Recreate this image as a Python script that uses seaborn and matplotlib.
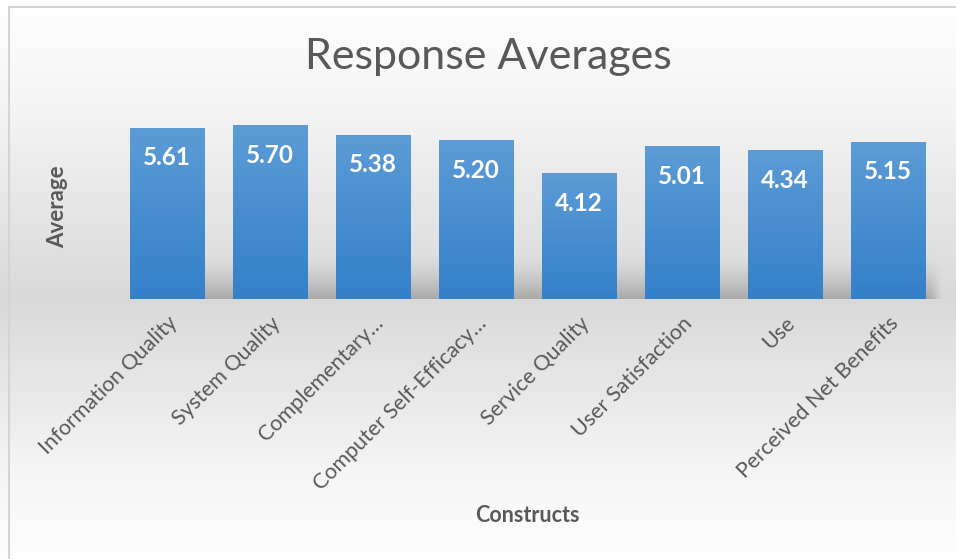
import numpy as np
import pandas as pd
import seaborn as sns
import matplotlib.pyplot as plt
from matplotlib.lines import Line2D

# ---- data ----
categories = ["Information Quality", "System Quality", "Complementary\u2026",
              "Computer Self-Efficacy\u2026", "Service Quality", "User Satisfaction",
              "Use", "Perceived Net Benefits"]
# bar heights as drawn in the picture (the "Use" bar is drawn taller than its label)
averages = [5.61, 5.70, 5.38, 5.20, 4.12, 5.01, 4.88, 5.15]
value_labels = ["5.61", "5.70", "5.38", "5.20", "4.12", "5.01", "4.34", "5.15"]
title = "Response Averages"
x_title = "Constructs"
y_title = "Average"

df = pd.DataFrame({"construct": categories, "average": averages})

sns.set_theme(style="white")
plt.rcParams['font.family'] = ['Lato', 'DejaVu Sans']

W, H = 956, 559
fig = plt.figure(figsize=(W / 100, H / 100), dpi=100)

# background vertical gradient
bg = fig.add_axes([0, 0, 1, 1], zorder=-1)
ys = np.arange(H)
vals = np.interp(ys, [0, 110, 298, 470, 559], [255, 244, 217, 245, 254]) / 255.0
grad = np.repeat(vals[:, None], 2, axis=1)
bg.imshow(np.dstack([grad, grad, grad]), aspect='auto', extent=[0, 1, 0, 1], origin='upper')
bg.set_axis_off()

# chart border (left & top)
fig.add_artist(Line2D([8.5 / W, 8.5 / W], [0, 1 - 6.5 / H], color='#d4d4d4', lw=1.5, transform=fig.transFigure))
fig.add_artist(Line2D([8.5 / W, 1], [1 - 6.5 / H, 1 - 6.5 / H], color='#d4d4d4', lw=1.5, transform=fig.transFigure))

ax = fig.add_axes([115.5 / W, (H - 299) / H, 824 / W, 183 / H])
ax.patch.set_alpha(0)

sns.barplot(data=df, x="construct", y="average", color="#4a8fd2", width=0.72,
            saturation=1, ax=ax, zorder=3)
ax.set_ylim(0, 6)
ax.set_xlim(-0.5, 7.5)

# floor shadow behind bars
sh_h, sh_w = 60, 400
yy = np.linspace(0, 1, sh_h)[:, None]  # 0 top -> 1 bottom
alpha = 0.62 * yy ** 1.6
xx = np.linspace(0, 1, sh_w)[None, :]
fade = np.clip((1 - xx) / 0.015, 0, 1)
A = alpha * fade
shadow = np.zeros((sh_h, sh_w, 4))
shadow[..., :3] = 140 / 255
shadow[..., 3] = A
ax.imshow(shadow, aspect='auto', extent=[-0.36, 7.524, 0, 1.5], origin='upper',
          zorder=1, clip_on=False, interpolation='bilinear')

# gradient fill for bars
top_c = np.array([92, 156, 214]) / 255
bot_c = np.array([52, 128, 201]) / 255
t = np.linspace(0, 1, 100)[:, None]
gcol = top_c * (1 - t) + bot_c * t
gimg = np.repeat(gcol[:, None, :], 2, axis=1)
for p in ax.patches:
    x0, y0 = p.get_x(), p.get_y()
    w, h = p.get_width(), p.get_height()
    im = ax.imshow(gimg, aspect='auto', extent=[x0, x0 + w, y0, y0 + h], origin='upper', zorder=4)
    im.set_clip_path(p)
    p.set_edgecolor('none')

# value labels
for i, (v, lab) in enumerate(zip(averages, value_labels)):
    ax.annotate(lab, xy=(i, v), xytext=(0, -30), textcoords='offset pixels',
                ha='center', va='center', color='white', fontsize=17.5, fontweight='bold', zorder=5)

ax.set_yticks([])
ax.tick_params(axis='x', length=0, pad=10)
ax.set_xticks(range(len(categories)))
ax.set_xticklabels(categories, rotation=45, ha='right', rotation_mode='anchor',
                   fontsize=15.5, color='#595959')
for s in ax.spines.values():
    s.set_visible(False)
ax.set_xlabel("")
ax.set_ylabel("")
ax.set_xlim(-0.5, 7.5)
ax.set_ylim(0, 6)

fig.text(488 / W, 1 - 57 / H, title, ha='center', va='center', fontsize=31, color='#595959')
fig.text(527 / W, 1 - 515 / H, x_title, ha='center', va='center', fontsize=15.5,
         fontweight='bold', color='#595959')
fig.text(58 / W, 1 - 207 / H, y_title, ha='center', va='center', rotation=90, fontsize=16,
         fontweight='bold', color='#595959')

fig.savefig("out.png", dpi=100)
